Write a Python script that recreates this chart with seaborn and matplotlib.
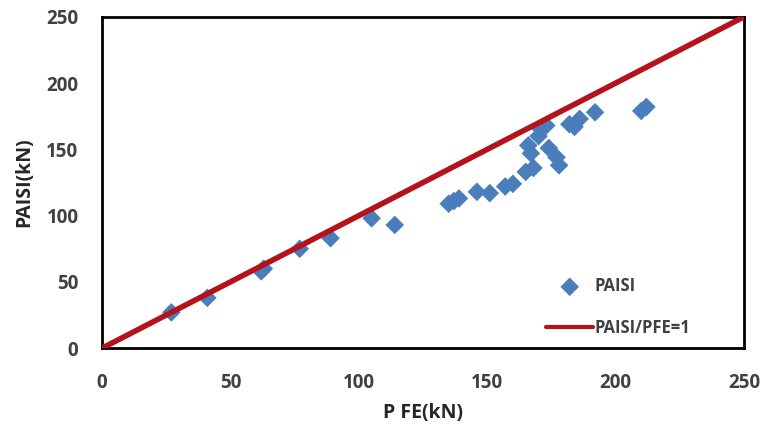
import matplotlib
matplotlib.use("Agg")
import matplotlib.pyplot as plt
import seaborn as sns
import pandas as pd

# data (kN)
p_fe = [27, 41, 62, 63, 77, 89, 105, 114, 135, 137, 139, 146, 151, 157, 160,
        165, 168, 166, 167, 170, 171, 173, 174, 177, 178, 182, 184, 186, 192, 210, 212]
p_aisi = [27, 38, 58, 60, 75, 83, 98, 93, 109, 111, 113, 118, 117, 122, 124,
          133, 136, 153, 147, 160, 165, 168, 151, 144, 138, 169, 167, 173, 178, 179, 182]
ref_x = [0, 250]
ref_y = [0, 250]

sns.set_style("white")
plt.rcParams['font.family'] = ['Open Sans', 'DejaVu Sans']

df = pd.DataFrame({"PFE": p_fe, "PAISI": p_aisi})
ref = pd.DataFrame({"x": ref_x, "y": ref_y})

fig = plt.figure(figsize=(7.67, 4.32), dpi=100)
ax = fig.add_axes([0.133, 0.194, 0.837, 0.767])

sns.scatterplot(data=df, x="PFE", y="PAISI", marker="D", s=90, color="#4a7ebb",
                edgecolor="none", label="PAISI", ax=ax, zorder=2)
sns.lineplot(data=ref, x="x", y="y", color="#b5121b", linewidth=4,
             label="PAISI/PFE=1", ax=ax, zorder=3)

ax.set_xlim(0, 250)
ax.set_ylim(0, 250)
ax.set_xticks(range(0, 251, 50))
ax.set_yticks(range(0, 251, 50))
ax.tick_params(axis="both", length=0, labelsize=13.5, labelcolor="#404040")
ax.tick_params(axis="x", pad=18)
ax.tick_params(axis="y", pad=17)
for lbl in ax.get_xticklabels() + ax.get_yticklabels():
    lbl.set_fontweight("bold")

for sp in ax.spines.values():
    sp.set_color("black")
    sp.set_linewidth(2)

ax.set_xlabel("P FE(kN)", fontsize=14, fontweight="bold", color="#262626", labelpad=7)
ax.set_ylabel("PAISI(kN)", fontsize=14, fontweight="bold", color="#262626", labelpad=9)

leg = ax.legend(loc="lower right", frameon=False, fontsize=12, handlelength=2.8,
                handletextpad=0.1, labelspacing=1.4, bbox_to_anchor=(0.94, -0.01))
for t in leg.get_texts():
    t.set_fontweight("bold")
    t.set_color("#404040")
leg.get_lines()[0].set_linewidth(3)

fig.savefig("out.png", dpi=100)
